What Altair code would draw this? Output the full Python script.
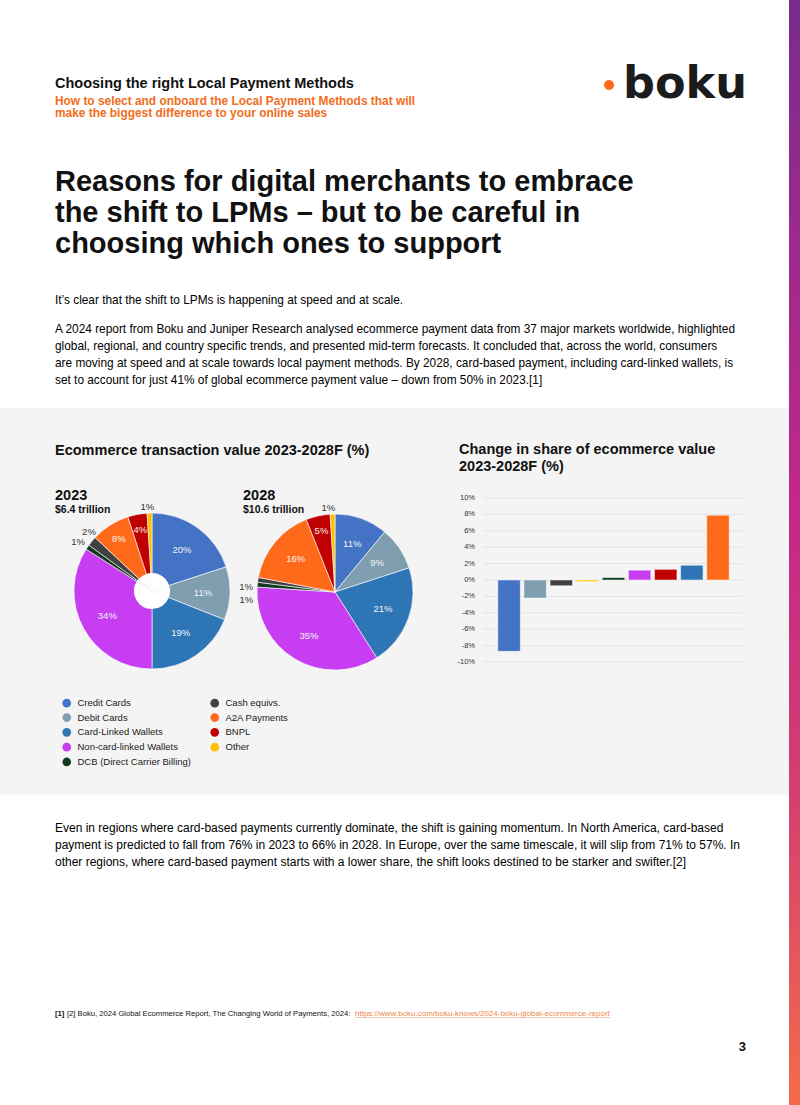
import altair as alt
import pandas as pd

FONT = "Liberation Sans"

# ---------------- data ----------------
categories = ["Credit Cards", "Debit Cards", "Card-Linked Wallets", "Non-card-linked Wallets",
              "DCB (Direct Carrier Billing)", "Cash equivs.", "A2A Payments", "BNPL", "Other"]
share_2023 = [20, 11, 19, 34, 1, 2, 8, 4, 1]
share_2028 = [11, 9, 21, 35, 1, 1, 16, 5, 1]
change_pts = [-8.7, -2.2, 1.8, 1.2, 0.3, -0.7, 7.9, 1.3, -0.2]
palette = ["#4472c4", "#7f9fb1", "#2e75b6", "#c63df2", "#123a20",
           "#404040", "#ff6a1a", "#c00000", "#ffc000"]
y_ticks = [-10, -8, -6, -4, -2, 0, 2, 4, 6, 8, 10]

bar_order = [c for _, c in sorted(zip(change_pts, categories))]

pie23 = pd.DataFrame({"cat": categories, "value": share_2023, "order": list(range(9))})
pie28 = pd.DataFrame({"cat": categories, "value": share_2028, "order": list(range(9))})
bars = pd.DataFrame({"cat": categories, "chg": change_pts})
ticks = pd.DataFrame({"t": y_ticks})
one = pd.DataFrame({"k": [0]})

# label nudges (layout only) for the small outside slice labels
nudge_2023 = {"DCB (Direct Carrier Billing)": (-2, 0), "Cash equivs.": (4, -4), "Other": (-2, 3)}
nudge_2028 = {"DCB (Direct Carrier Billing)": (-2, 16), "Cash equivs.": (-3, 9), "Other": (-4, 3)}

# ---------------- encodings ----------------
color_enc = alt.Color(
    "cat:N",
    scale=alt.Scale(domain=categories, range=palette),
    legend=alt.Legend(orient="none", legendX=62, legendY=698, columns=2, title=None,
                      symbolType="circle", symbolSize=75, symbolStrokeWidth=0,
                      labelFont=FONT, labelFontSize=9.5, labelColor="#222",
                      rowPadding=3.8, columnPadding=19, labelOffset=6),
)
theta_scale = alt.Scale(domain=[0, 100])
yscale = alt.Scale(domain=[-10, 10], range=[662, 498], nice=False)


def txt(s, x, y, size, weight="normal", color="#111111", align="left", lh=None, font=FONT):
    kw = dict(align=align, baseline="alphabetic", fontSize=size, fontWeight=weight,
              color=color, font=font)
    if lh:
        kw["lineHeight"] = lh
    return alt.Chart(one).mark_text(**kw).encode(
        x=alt.value(x), y=alt.value(y), text=alt.value(s))


def pie(df, cx, cy, nudge, hole=False):
    base = alt.Chart(df)
    arcs = base.mark_arc(radius=78, stroke="white", strokeWidth=0.6).encode(
        theta=alt.Theta("value:Q", stack=True, scale=theta_scale),
        color=color_enc,
        order=alt.Order("order:Q"),
        x=alt.value(cx), y=alt.value(cy),
    )
    lab = base.transform_window(
        cum="sum(value)", sort=[alt.SortField("order")]
    ).transform_calculate(
        mid="datum.cum - datum.value / 2", lbl="datum.value + '%'"
    )

    def lay(cond, r, col, dx=0, dy=0):
        return lab.transform_filter(cond).mark_text(
            radius=r, font=FONT, fontSize=9.5, color=col, baseline="middle", align="center",
            dx=dx, dy=dy,
        ).encode(
            theta=alt.Theta("mid:Q", stack=None, scale=theta_scale),
            text="lbl:N", x=alt.value(cx), y=alt.value(cy),
        )
    layers = [arcs]
    if hole:
        layers.append(base.mark_arc(radius=18, color="white").encode(
            theta=alt.Theta("value:Q", stack=True, scale=theta_scale),
            order=alt.Order("order:Q"),
            x=alt.value(cx), y=alt.value(cy)))
    layers += [
        lay("datum.value >= 9", 51, "#f4f4f4"),
        lay("datum.value >= 3 && datum.value < 9", 62, "#f4f4f4"),
    ]
    for cat, (dx, dy) in nudge.items():
        layers.append(lay(f"datum.value < 3 && datum.cat == '{cat}'", 87, "#333333", dx, dy))
    return layers


# ---------------- page furniture ----------------
band = alt.Chart(one).mark_rect(color="#f4f4f4").encode(
    x=alt.value(0), x2=alt.value(789), y=alt.value(408), y2=alt.value(795))
stripe = alt.Chart(one).mark_rect(color=alt.LinearGradient(
    gradient="linear", x1=0, x2=0, y1=0, y2=1,
    stops=[alt.GradientStop(color="#782c8c", offset=0),
           alt.GradientStop(color="#c0288a", offset=0.45),
           alt.GradientStop(color="#d3406f", offset=0.72),
           alt.GradientStop(color="#f36b4b", offset=1)])).encode(
    x=alt.value(789), x2=alt.value(800), y=alt.value(0), y2=alt.value(1105))

logo_dot = alt.Chart(one).mark_circle(color="#ff6a1a", opacity=1, size=100).encode(
    x=alt.value(609), y=alt.value(85))
logo = txt("boku", 623, 98, 44.6, "bold", "#1c1c1c", font="DejaVu Sans")

para1 = ["A 2024 report from Boku and Juniper Research analysed ecommerce payment data from 37 major markets worldwide, highlighted",
         "global, regional, and country specific trends, and presented mid-term forecasts. It concluded that, across the world, consumers",
         "are moving at speed and at scale towards local payment methods. By 2028, card-based payment, including card-linked wallets, is",
         "set to account for just 41% of global ecommerce payment value – down from 50% in 2023.[1]"]
para2 = ["Even in regions where card-based payments currently dominate, the shift is gaining momentum. In North America, card-based",
         "payment is predicted to fall from 76% in 2023 to 66% in 2028. In Europe, over the same timescale, it will slip from 71% to 57%. In",
         "other regions, where card-based payment starts with a lower share, the shift looks destined to be starker and swifter.[2]"]

BODY = 11.85
texts = [
    txt("Choosing the right Local Payment Methods", 55, 88, 14.5, "bold"),
    txt(["How to select and onboard the Local Payment Methods that will",
         "make the biggest difference to your online sales"], 55, 105, 11.9, "bold", "#f26d21", lh=12),
    txt(["Reasons for digital merchants to embrace",
         "the shift to LPMs – but to be careful in",
         "choosing which ones to support"], 55, 191, 29, "bold", "#111111", lh=31),
    txt("It’s clear that the shift to LPMs is happening at speed and at scale.", 55, 304, BODY, color="#000"),
    txt(para1, 55, 333, BODY, color="#000", lh=17),
    txt("Ecommerce transaction value 2023-2028F (%)", 55, 455, 14.5, "bold"),
    txt(["Change in share of ecommerce value", "2023-2028F (%)"], 459, 454, 14.5, "bold", lh=17),
    txt("2023", 55, 500, 14.5, "bold"),
    txt("$6.4 trillion", 55, 513, 10.5, "bold"),
    txt("2028", 243, 500, 14.5, "bold"),
    txt("$10.6 trillion", 243, 513, 10.5, "bold"),
    txt(para2, 55, 832, 12, color="#000", lh=17),
    txt("[1]", 55, 1015.5, 7.7, "bold"),
    txt("[2] Boku, 2024 Global Ecommerce Report, The Changing World of Payments, 2024:", 67, 1015.5, 7.65),
    txt("https://www.boku.com/boku-knows/2024-boku-global-ecommerce-report", 355, 1015.5, 8.0, color="#f0874a"),
    txt("3", 746, 1051, 13, "bold", align="right"),
]
link_line = alt.Chart(one).mark_rule(color="#f0a070", strokeWidth=0.6).encode(
    x=alt.value(355), x2=alt.value(610), y=alt.value(1017.5))

# ---------------- bar chart ----------------
grid = alt.Chart(ticks).mark_rule(color="#e3e3e3", strokeWidth=1).encode(
    y=alt.Y("t:Q", scale=yscale, axis=None), x=alt.value(483), x2=alt.value(742))
tick_lbl = alt.Chart(ticks).transform_calculate(lbl="datum.t + '%'").mark_text(
    align="right", baseline="middle", font=FONT, fontSize=7.5, color="#333").encode(
    y=alt.Y("t:Q", scale=yscale, axis=None), x=alt.value(475), text="lbl:N")
bar = alt.Chart(bars).mark_bar(stroke="white", strokeWidth=0.5).encode(
    x=alt.X("cat:N", sort=bar_order, axis=None,
            scale=alt.Scale(range=[496, 731], paddingInner=0.14, paddingOuter=0.07)),
    y=alt.Y("chg:Q", scale=yscale, axis=None),
    color=color_enc,
)

chart = alt.layer(
    band, stripe, logo_dot, logo, *texts, link_line,
    grid, tick_lbl, bar,
    *pie(pie23, 152, 591, nudge_2023, hole=True),
    *pie(pie28, 335, 592, nudge_2028),
).properties(
    width=800, height=1105, padding=0,
    autosize=alt.AutoSizeParams(type="none"), background="white",
).configure_view(stroke=None)

chart.save("out.html", embed_options={"renderer": "svg", "actions": False})
